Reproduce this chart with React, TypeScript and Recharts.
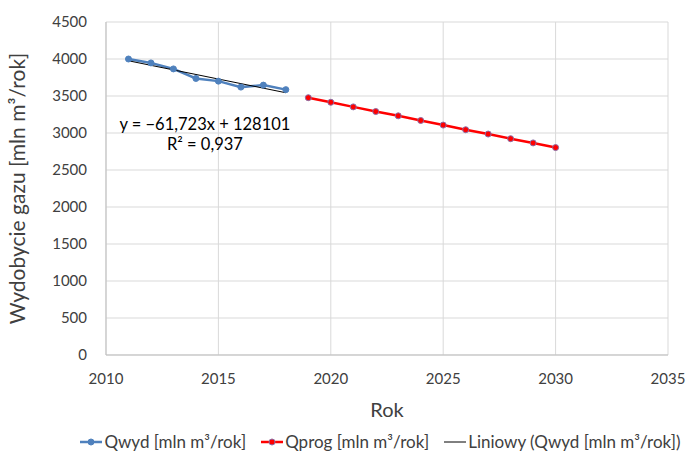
import React from 'react';
import { LineChart, Line, XAxis, YAxis, CartesianGrid, Legend, ReferenceDot } from 'recharts';

const yearsHist = [2011, 2012, 2013, 2014, 2015, 2016, 2017, 2018];
const qwyd = [4000, 3947, 3866, 3737, 3701, 3620, 3647, 3586];
const yearsProg = [2019, 2020, 2021, 2022, 2023, 2024, 2025, 2026, 2027, 2028, 2029, 2030];
const qprog = [3477, 3415, 3353, 3290, 3232, 3169, 3107, 3044, 2986, 2923, 2866, 2803];
const trendYears = [2011, 2018];
const trendValues = [3976, 3544];
const xTicks = [2010, 2015, 2020, 2025, 2030, 2035];
const yTicks = [0, 500, 1000, 1500, 2000, 2500, 3000, 3500, 4000, 4500];
const equationText = 'y = −61,723x + 128101';
const r2Text = 'R² = 0,937';

const histData = yearsHist.map((x, i) => ({ x, qwyd: qwyd[i] }));
const progData = yearsProg.map((x, i) => ({ x, qprog: qprog[i] }));
const trendData = trendYears.map((x, i) => ({ x, trend: trendValues[i] }));

const FONT = 'Lato, "Open Sans", sans-serif';
const BLUE = '#4f81bd';
const RED = '#ff0000';

const LegendContent = () => {
  const item = (color: string, label: string, dot: boolean, thin: boolean, dotStroke?: string) => (
    <span style={{ display: 'inline-flex', alignItems: 'center', marginRight: 15, whiteSpace: 'nowrap' }}>
      <svg width={22} height={10} style={{ marginRight: 2 }}>
        <line x1={0} y1={5} x2={22} y2={5} stroke={color} strokeWidth={thin ? 1 : 2.5} />
        {dot && <circle cx={11} cy={5} r={3} fill={color} stroke={dotStroke || color} strokeWidth={1} />}
      </svg>
      <span>{label}</span>
    </span>
  );
  return (
    <div
      style={{
        display: 'flex',
        justifyContent: 'center',
        whiteSpace: 'nowrap',
        paddingTop: 4,
        transform: 'translateX(54px)',
        fontFamily: FONT,
        fontSize: 17,
        color: '#404040',
      }}
    >
      {item(BLUE, 'Qwyd [mln m³/rok]', true, false)}
      {item(RED, 'Qprog [mln m³/rok]', true, false, '#8b6fa8')}
      {item('#000000', 'Liniowy (Qwyd [mln m³/rok])', false, true)}
    </div>
  );
};

export default function App() {
  return (
    <div style={{ position: 'absolute', left: 0, top: 0, width: 690, height: 457, background: '#fff' }}>
      <LineChart width={690} height={457} margin={{ top: 22, right: 22, left: 0, bottom: 10 }}>
        <CartesianGrid stroke="#d9d9d9" strokeWidth={1} />
        <XAxis
          type="number"
          dataKey="x"
          domain={[2010, 2035]}
          ticks={xTicks}
          allowDuplicatedCategory={false}
          tickLine={false}
          tickSize={0}
          tickMargin={18}
          axisLine={{ stroke: '#bfbfbf' }}
          tick={{ fill: '#404040', fontSize: 15, fontFamily: FONT }}
          height={62}
          label={{ value: 'Rok', position: 'insideBottom', offset: 0, fill: '#404040', fontSize: 20, fontFamily: FONT }}
        />
        <YAxis
          type="number"
          domain={[0, 4500]}
          ticks={yTicks}
          tickLine={false}
          tickSize={0}
          tickMargin={19}
          axisLine={{ stroke: '#bfbfbf' }}
          tick={{ fill: '#404040', fontSize: 15, fontFamily: FONT }}
          width={106}
          label={{
            value: 'Wydobycie gazu [mln m³/rok]',
            angle: -90,
            position: 'insideLeft',
            offset: 18,
            style: { textAnchor: 'middle' },
            fill: '#404040',
            fontSize: 21,
            fontFamily: FONT,
          }}
        />
        <Legend verticalAlign="bottom" height={30} wrapperStyle={{ bottom: 0 }} content={<LegendContent />} />
        <Line
          data={histData}
          dataKey="qwyd"
          name="Qwyd [mln m³/rok]"
          stroke={BLUE}
          strokeWidth={2.5}
          dot={{ r: 3, fill: BLUE, stroke: BLUE, strokeWidth: 1 }}
          isAnimationActive={false}
        />
        <Line
          data={progData}
          dataKey="qprog"
          name="Qprog [mln m³/rok]"
          stroke={RED}
          strokeWidth={2.5}
          dot={{ r: 3, fill: RED, stroke: '#8b6fa8', strokeWidth: 1 }}
          isAnimationActive={false}
        />
        <Line
          data={trendData}
          dataKey="trend"
          name="Liniowy (Qwyd [mln m³/rok])"
          stroke="#000000"
          strokeWidth={1}
          dot={false}
          isAnimationActive={false}
        />
        <ReferenceDot
          x={2014.4}
          y={3120}
          r={0}
          fill="none"
          stroke="none"
          label={{ value: equationText, position: 'center', fill: '#000', fontSize: 16.5, fontFamily: FONT }}
        />
        <ReferenceDot
          x={2014.4}
          y={2855}
          r={0}
          fill="none"
          stroke="none"
          label={{ value: r2Text, position: 'center', fill: '#000', fontSize: 16.5, fontFamily: FONT }}
        />
      </LineChart>
    </div>
  );
}
